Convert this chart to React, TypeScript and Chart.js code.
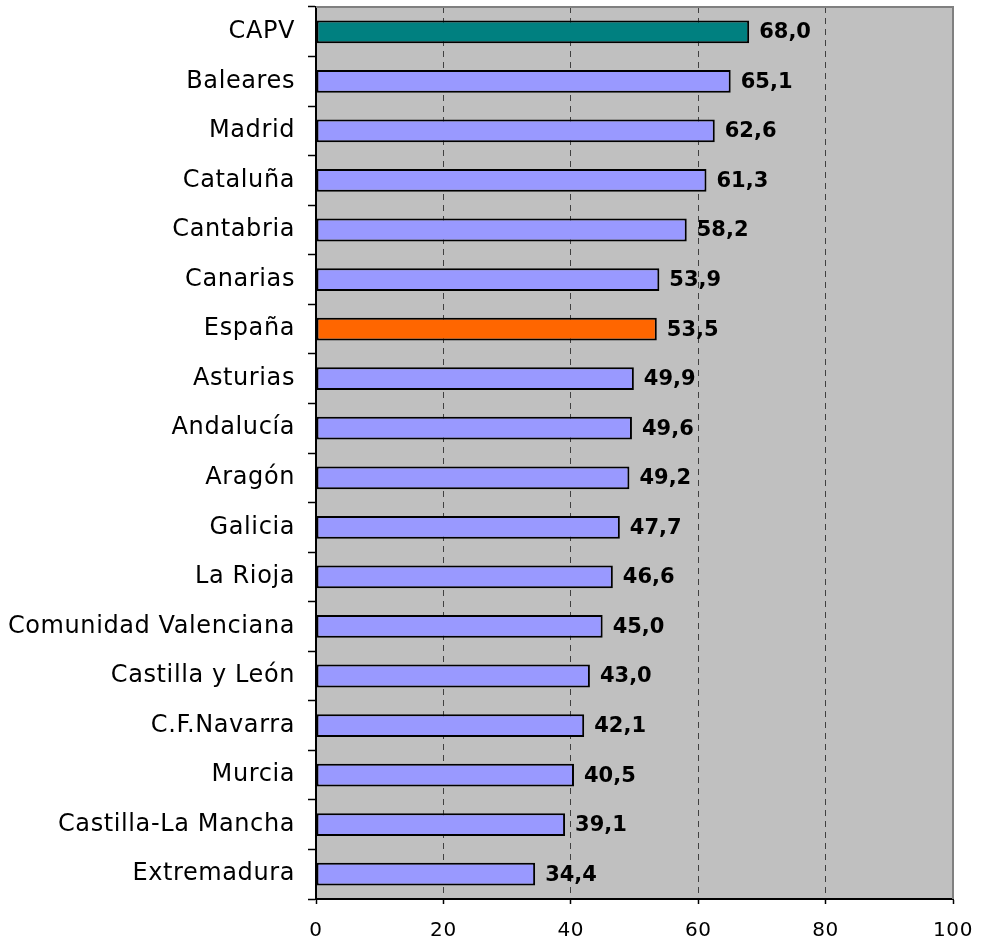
import React, { useEffect, useRef } from "react";
import { Chart, registerables } from "chart.js";

Chart.register(...registerables);

const categories = [
  "CAPV", "Baleares", "Madrid", "Cataluña", "Cantabria", "Canarias", "España",
  "Asturias", "Andalucía", "Aragón", "Galicia", "La Rioja", "Comunidad Valenciana",
  "Castilla y León", "C.F.Navarra", "Murcia", "Castilla-La Mancha", "Extremadura",
];
const values = [68.0, 65.1, 62.6, 61.3, 58.2, 53.9, 53.5, 49.9, 49.6, 49.2, 47.7, 46.6, 45.0, 43.0, 42.1, 40.5, 39.1, 34.4];
const highlightCAPV = "CAPV";
const highlightSpain = "España";
const xTicks = [0, 20, 40, 60, 80, 100];

const FONT = "'DejaVu Sans', Verdana, sans-serif";

export default function App() {
  const ref = useRef<HTMLCanvasElement | null>(null);

  useEffect(() => {
    const canvas = ref.current;
    if (!canvas) return;

    const colors = categories.map((c) =>
      c === highlightCAPV ? "#008080" : c === highlightSpain ? "#FF6600" : "#9999FF"
    );

    const bgPlugin = {
      id: "plotBg",
      beforeDraw(chart: any) {
        const { ctx, chartArea: a } = chart;
        ctx.save();
        ctx.fillStyle = "#C0C0C0";
        ctx.fillRect(a.left, a.top, a.right - a.left, a.bottom - a.top);
        ctx.restore();
        (ctx as any).letterSpacing = "0.6px";
      },
      afterDraw(chart: any) {
        const { ctx, chartArea: a } = chart;
        ctx.save();
        ctx.strokeStyle = "#808080";
        ctx.lineWidth = 2;
        ctx.beginPath();
        ctx.moveTo(a.left, a.top);
        ctx.lineTo(a.right, a.top);
        ctx.lineTo(a.right, a.bottom);
        ctx.stroke();
        ctx.restore();
        (ctx as any).letterSpacing = "0px";
      },
    };

    const labelPlugin = {
      id: "valueLabels",
      afterDatasetsDraw(chart: any) {
        const { ctx } = chart;
        const meta = chart.getDatasetMeta(0);
        ctx.save();
        (ctx as any).letterSpacing = "0px";
        ctx.font = `bold 21px ${FONT}`;
        ctx.fillStyle = "#000";
        ctx.textAlign = "left";
        ctx.textBaseline = "middle";
        meta.data.forEach((el: any, i: number) => {
          const txt = values[i].toFixed(1).replace(".", ",");
          ctx.fillText(txt, el.x + 10, el.y + 1);
        });
        ctx.restore();
      },
    };

    const chart = new Chart(canvas, {
      type: "bar",
      data: {
        labels: categories,
        datasets: [
          {
            data: values,
            backgroundColor: colors,
            borderColor: "#000",
            borderWidth: 2,
            borderSkipped: false,
            barPercentage: 0.46,
            categoryPercentage: 1,
          },
        ],
      },
      options: {
        indexAxis: "y",
        responsive: false,
        animation: false,
        devicePixelRatio: 1,
        layout: { padding: { left: 0, top: 7, right: 28, bottom: 0 } },
        plugins: {
          legend: { display: false },
          tooltip: { enabled: false },
        },
        scales: {
          x: {
            type: "linear",
            min: 0,
            max: 100,
            afterBuildTicks(scale: any) {
              scale.ticks = xTicks.map((v) => ({ value: v }));
            },
            afterFit(scale: any) {
              scale.height = 42;
              scale.paddingLeft = 0;
              scale.paddingRight = 0;
            },
            ticks: {
              color: "#000",
              font: { family: FONT, size: 20 },
              padding: 15,
            },
            grid: {
              color: (ctx: any) =>
                ctx.tick && (ctx.tick.value === 0 || ctx.tick.value === 100)
                  ? "rgba(0,0,0,0)"
                  : "#404040",
              lineWidth: 1,
              tickColor: "#000",
              tickLength: 5,
              tickBorderDash: [],
              tickWidth: 1.5,
            },
            border: { color: "#000", width: 2, dash: [6, 5] },
          },
          y: {
            afterFit(scale: any) {
              scale.width = 316;
              scale.paddingTop = 0;
              scale.paddingBottom = 0;
            },
            ticks: {
              color: "#000",
              font: { family: FONT, size: 24 },
              padding: 13,
            },
            grid: {
              drawOnChartArea: false,
              tickLength: 8,
              tickColor: "#000",
              tickWidth: 1.5,
              offset: true,
            },
            border: { color: "#000", width: 2 },
          },
        },
      },
      plugins: [bgPlugin, labelPlugin],
    } as any);

    return () => chart.destroy();
  }, []);

  return (
    <div style={{ position: "fixed", left: 0, top: 0, width: 981, height: 941, background: "#fff" }}>
      <canvas ref={ref} width={981} height={941} style={{ display: "block" }} />
    </div>
  );
}
